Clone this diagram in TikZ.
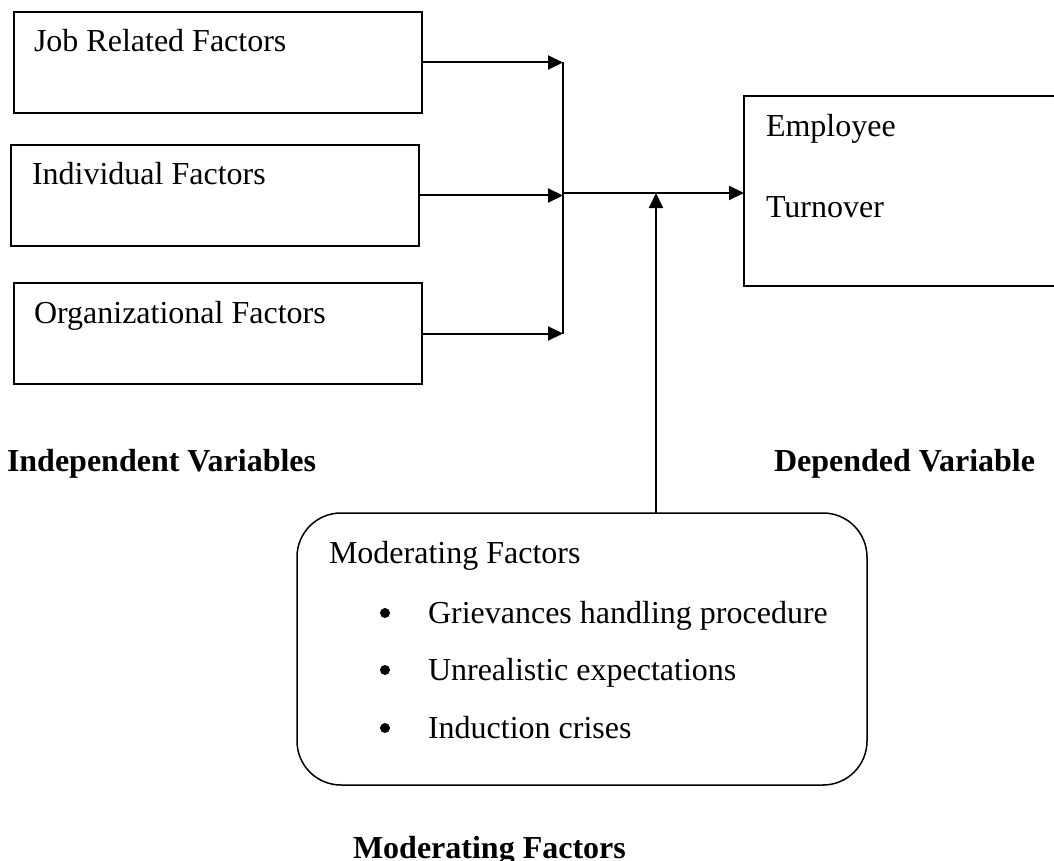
\documentclass[tikz,border=0pt]{standalone}
\usepackage{fontspec}
\setmainfont{Liberation Serif}
\usetikzlibrary{arrows.meta,positioning}
\tikzstyle{factor} = [draw, rectangle, line width=1.5pt, anchor=north west,
    minimum width=408pt, minimum height=101pt]
\tikzstyle{caption} = [anchor=base west, font=\fontsize{32}{38}\selectfont\bfseries]
\tikzstyle{line} = [draw, -{Triangle[length=15pt,width=14pt]}]
\tikzstyle{dot} = [circle, fill, minimum size=10pt]
\tikzset{
  txt/.style ={anchor=base west}
}

\begin{document}
\begin{tikzpicture}[x=1pt,y=-1pt,line width=2pt, every node/.style={font=\fontsize{32}{38}\selectfont, inner sep=0pt, outer sep=0pt}]
  \useasboundingbox (0,0) rectangle (1054,861);

  \node[factor] (job) at (14,12) {};
  \node[factor] (indiv) at (11,145) {};
  \node[factor] (org) at (14,283) {};
  \node[factor, minimum width=340pt, minimum height=190pt] (turnover) at (744,96) {};
  \node[factor, rounded corners=44pt, minimum width=570pt, minimum height=272pt] (moderator) at (297,513) {};

  \node[txt] (jobtext) at (34,52) {Job Related Factors};
  \node[txt] (indivtext) at (32,185) {Individual Factors};
  \node[txt] (orgtext) at (34,323) {Organizational Factors};
  \node[txt] (turnovertext1) at (766,137) {Employee};
  \node[txt] (turnovertext2) at (766,218) {Turnover};
  \node[txt] (moderatortext) at (329,563) {Moderating Factors};
  \foreach \ypos/\bpos/\mfitem in {623/613/Grievances handling procedure, 680/670/Unrealistic expectations, 738/728/Induction crises} {
    \node[dot] (bullet\ypos) at (385,\bpos) {};
    \node[txt] (mfitem\ypos) at (428,\ypos) {\mfitem};
  }

  \node[caption] (independent) at (7,471) {Independent Variables};
  \node[caption] (dependent) at (774,471) {Depended Variable};
  \node[caption] (moderating) at (353,858) {Moderating Factors};

  \coordinate (merge) at (563,193);
  \coordinate (modin) at (656,193);

  \begin{scope}[every path/.style=line]
    \path (job) -- (job -| merge);
    \path (indiv) -- (indiv -| merge);
    \path (org) -- (org -| merge);
    \path (merge) -- (merge -| turnover.west);
    \path (moderator.north -| modin) -- (modin);
  \end{scope}
  \draw (job -| merge) -- (org -| merge);

\end{tikzpicture}
\end{document}
